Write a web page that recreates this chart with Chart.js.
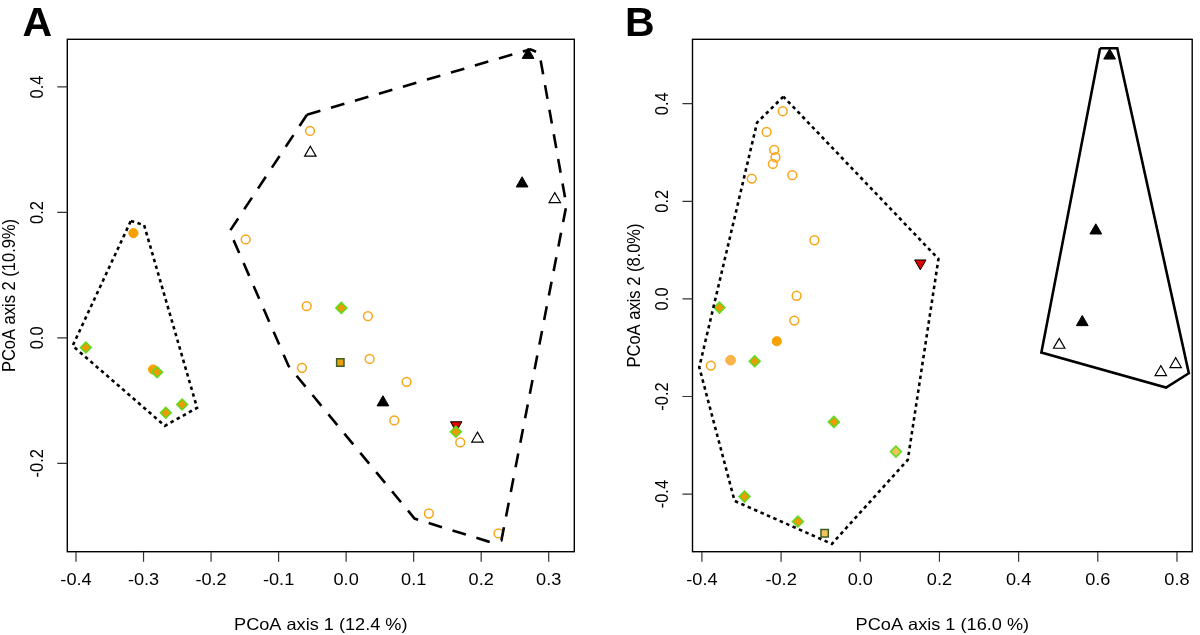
<!DOCTYPE html>
<html><head><meta charset="utf-8">
<script src="https://cdn.jsdelivr.net/npm/chart.js@4"></script>
<style>
html,body{margin:0;padding:0;background:#fff;}
#wrap{position:relative;width:1200px;height:635px;background:#fff;overflow:hidden;}
.pane{position:absolute;top:0;width:600px;height:635px;}
</style></head><body>
<div id="wrap">
  <div class="pane" style="left:0"><canvas id="cA" width="600" height="635"></canvas></div>
  <div class="pane" style="left:600px"><canvas id="cB" width="600" height="635"></canvas></div>
</div>
<script>
// ---------------- Panel A data ----------------
const A_xTicks = [-0.4, -0.3, -0.2, -0.1, 0.0, 0.1, 0.2, 0.3];
const A_yTicks = [-0.2, 0.0, 0.2, 0.4];
const A_xTitle = 'PCoA axis 1 (12.4 %)';
const A_yTitle = 'PCoA axis 2 (10.9%)';
const A_openCircles = [[-0.0535,0.330],[-0.1487,0.157],[-0.0584,0.0505],[-0.0654,-0.0478],[0.0323,0.0346],[0.0348,-0.0335],[0.0895,-0.0701],[0.0713,-0.1316],[0.169,-0.1667],[0.1225,-0.280],[0.2256,-0.3117]];
const A_filledCircles = [[-0.315,0.167],[-0.2858,-0.0504]];
const A_diamonds = [[-0.3854,-0.0153],[-0.2799,-0.0547],[-0.267,-0.1195],[-0.2429,-0.1062],[-0.0071,0.0478],[0.1625,-0.1498]];
const A_squares = [[-0.0086,-0.0392]];
const A_downTriangles = [[0.163,-0.139]];
const A_filledTriangles = [[0.2695,0.451],[0.2606,0.246],[0.0545,-0.1030]];
const A_openTriangles = [[-0.053,0.295],[0.309,0.221],[0.1945,-0.1608]];
const A_hullDotted = [[-0.3188,0.1865],[-0.2991,0.1796],[-0.2207,-0.1116],[-0.2685,-0.1402],[-0.405,-0.0127]];
const A_hullDashed = [[-0.058,0.3557],[0.2729,0.4601],[0.2862,0.4537],[0.3262,0.2115],[0.230,-0.3227],[0.2108,-0.3248],[0.1013,-0.2881],[-0.0851,-0.0451],[-0.1724,0.170]];

// ---------------- Panel B data ----------------
const B_xTicks = [-0.4, -0.2, 0.0, 0.2, 0.4, 0.6, 0.8];
const B_yTicks = [-0.4, -0.2, 0.0, 0.2, 0.4];
const B_xTitle = 'PCoA axis 1 (16.0 %)';
const B_yTitle = 'PCoA axis 2 (8.0%)';
const B_openCircles = [[-0.1958,0.3846],[-0.2367,0.3422],[-0.2175,0.3053],[-0.2142,0.2903],[-0.2208,0.2766],[-0.2742,0.2466],[-0.1717,0.2535],[-0.1158,0.1202],[-0.1608,0.0065],[-0.1667,-0.0444],[-0.3775,-0.1366]];
const B_filledCircles = [[-0.2108,-0.0867]];
const B_lightCircles = [[-0.3275,-0.1257]];
const B_diamonds = [[-0.3558,-0.0178],[-0.2667,-0.1277],[-0.0667,-0.252],[-0.2925,-0.4051],[-0.1575,-0.4563]];
const B_lightDiamonds = [[0.09,-0.3129]];
const B_lightSquares = [[-0.09,-0.4802]];
const B_downTriangles = [[0.1517,0.0731]];
const B_filledTriangles = [[0.63,0.4985],[0.595,0.140],[0.5608,-0.0478]];
const B_openTriangles = [[0.5025,-0.0943],[0.7592,-0.1503],[0.7967,-0.1339]];
const B_hullDotted = [[-0.1942,0.4146],[-0.2608,0.3613],[-0.4067,-0.140],[-0.3175,-0.4139],[-0.0717,-0.502],[0.12,-0.3299],[0.1975,0.082]];
const B_hullSolid = [[0.6058,0.5137],[0.6492,0.5137],[0.83,-0.1523],[0.7725,-0.1817],[0.4575,-0.110]];

// ---------------- styling ----------------
const ORANGE = '#F9A51A';
const FONT = '"Liberation Sans", Arial, Helvetica, sans-serif';
const pts = a => a.map(p => ({x: p[0], y: p[1]}));
const closed = a => pts(a.concat([a[0]]));

function markers(arr, style, order) {
  return Object.assign({data: pts(arr), order: order, pointHoverRadius: null}, style);
}
const S = {
  openCircle:   {pointStyle:'circle', pointRadius:4.4, backgroundColor:'rgba(255,255,255,0)', borderColor:ORANGE, borderWidth:1.5},
  filledCircle: {pointStyle:'circle', pointRadius:4.6, backgroundColor:'#F8A000', borderColor:'#F8A000', borderWidth:1},
  lightCircle:  {pointStyle:'circle', pointRadius:4.8, backgroundColor:'#FBB447', borderColor:'#F7A836', borderWidth:1},
  diamond:      {pointStyle:'rectRot', pointRadius:5.4, backgroundColor:'#EC9A06', borderColor:'#5EDD1C', borderWidth:1.6},
  lightDiamond: {pointStyle:'rectRot', pointRadius:5.4, backgroundColor:'#F2C35A', borderColor:'#5EDD1C', borderWidth:1.6},
  square:       {pointStyle:'rect', pointRadius:5.2, backgroundColor:'#E8A010', borderColor:'#3E5E22', borderWidth:1.5},
  lightSquare:  {pointStyle:'rect', pointRadius:5.2, backgroundColor:'#F0C560', borderColor:'#3E5E22', borderWidth:1.5},
  downTriangle: {pointStyle:'triangle', pointRotation:180, pointRadius:6.6, backgroundColor:'#DD0000', borderColor:'#000', borderWidth:1},
  filledTriangle:{pointStyle:'triangle', pointRadius:6.8, backgroundColor:'#000', borderColor:'#000', borderWidth:1},
  openTriangle: {pointStyle:'triangle', pointRadius:6.6, backgroundColor:'rgba(255,255,255,0)', borderColor:'#000', borderWidth:1.2}
};
function hull(arr, dash) {
  return {type:'line', data: closed(arr), showLine:true, pointRadius:0, borderColor:'#000', backgroundColor:'#000',
          borderWidth:2.6, borderDash:dash, borderCapStyle:'butt', borderJoinStyle:'miter', fill:false, tension:0, order:1};
}

function txt(ctx, s, x, y, o) {
  o = o || {};
  ctx.save();
  ctx.translate(x, y);
  ctx.scale(o.sx || 1.1, 1);
  if (o.rot) ctx.rotate(-Math.PI / 2);
  ctx.font = (o.bold ? 'bold ' : '') + (o.size || 16.5) + 'px ' + FONT;
  ctx.textAlign = o.align || 'center';
  ctx.textBaseline = 'alphabetic';
  ctx.fillStyle = '#000';
  ctx.fillText(s, 0, 0);
  ctx.restore();
}

function framePlugin(cfg) {
  return {
    id: 'frame',
    afterDraw(chart) {
      const ctx = chart.ctx, ca = chart.chartArea, x = chart.scales.x, y = chart.scales.y;
      ctx.save();
      ctx.strokeStyle = '#000';
      ctx.lineWidth = 1.4;
      ctx.strokeRect(ca.left, ca.top, ca.right - ca.left, ca.bottom - ca.top);
      ctx.strokeStyle = '#333';
      ctx.lineWidth = 1.2;
      ctx.beginPath();
      cfg.xTicks.forEach(v => { const p = x.getPixelForValue(v); ctx.moveTo(p, ca.bottom); ctx.lineTo(p, ca.bottom + 10); });
      cfg.yTicks.forEach(v => { const p = y.getPixelForValue(v); ctx.moveTo(ca.left, p); ctx.lineTo(ca.left - 10, p); });
      ctx.stroke();
      cfg.xTicks.forEach(v => txt(ctx, v.toFixed(1), x.getPixelForValue(v), ca.bottom + 33.5));
      cfg.yTicks.forEach(v => txt(ctx, v.toFixed(1), ca.left - 24.6, y.getPixelForValue(v), {rot:true}));
      const cx = (ca.left + ca.right) / 2, cy = (ca.top + ca.bottom) / 2;
      txt(ctx, cfg.xTitle, cx, ca.bottom + 78);
      txt(ctx, cfg.yTitle, ca.left - 52.3, cy, {rot:true});
      txt(ctx, cfg.letter, cfg.letterX, 36, {bold:true, size:41, sx:1, align:'left'});
      ctx.restore();
    }
  };
}

function makeChart(id, cfg) {
  return new Chart(document.getElementById(id), {
    type: 'scatter',
    data: {datasets: cfg.datasets},
    options: {
      responsive: false, animation: false, devicePixelRatio: 1,
      events: [],
      layout: {padding: {top: cfg.top, right: cfg.right, left: 0, bottom: 0}},
      plugins: {legend: {display: false}, tooltip: {enabled: false}},
      scales: {
        x: {type: 'linear', min: cfg.xMin, max: cfg.xMax, grid: {display: false, drawTicks: false}, border: {display: false},
            ticks: {display: false}, afterFit: s => { s.height = cfg.bottomH; }},
        y: {type: 'linear', min: cfg.yMin, max: cfg.yMax, grid: {display: false, drawTicks: false}, border: {display: false},
            ticks: {display: false}, afterFit: s => { s.width = cfg.leftW; }}
      }
    },
    plugins: [framePlugin(cfg)]
  });
}

makeChart('cA', {
  xTicks: A_xTicks, yTicks: A_yTicks, xTitle: A_xTitle, yTitle: A_yTitle, letter: 'A', letterX: 22.5,
  xMin: -0.4129, xMax: 0.3379, yMin: -0.3409, yMax: 0.476,
  top: 39.3, right: 25.7, leftW: 67.3, bottomH: 83.3,
  datasets: [
    hull(A_hullDotted, [3.5, 3.5]),
    hull(A_hullDashed, [14, 11]),
    markers(A_diamonds, S.diamond, 2),
    markers(A_squares, S.square, 3),
    markers(A_downTriangles, S.downTriangle, 4),
    markers(A_filledTriangles, S.filledTriangle, 5),
    markers(A_openTriangles, S.openTriangle, 5),
    markers(A_filledCircles, S.filledCircle, 6),
    markers(A_openCircles, S.openCircle, 6)
  ]
});

makeChart('cB', {
  xTicks: B_xTicks, yTicks: B_yTicks, xTitle: B_xTitle, yTitle: B_yTitle, letter: 'B', letterX: 25,
  xMin: -0.4238, xMax: 0.8385, yMin: -0.518, yMax: 0.532,
  top: 39.3, right: 3.5, leftW: 92.5, bottomH: 83.3,
  datasets: [
    hull(B_hullDotted, [3.5, 3.5]),
    hull(B_hullSolid, []),
    markers(B_diamonds, S.diamond, 2),
    markers(B_lightDiamonds, S.lightDiamond, 2),
    markers(B_lightSquares, S.lightSquare, 3),
    markers(B_downTriangles, S.downTriangle, 4),
    markers(B_filledTriangles, S.filledTriangle, 5),
    markers(B_openTriangles, S.openTriangle, 5),
    markers(B_filledCircles, S.filledCircle, 6),
    markers(B_lightCircles, S.lightCircle, 6),
    markers(B_openCircles, S.openCircle, 6)
  ]
});
</script>
</body></html>
